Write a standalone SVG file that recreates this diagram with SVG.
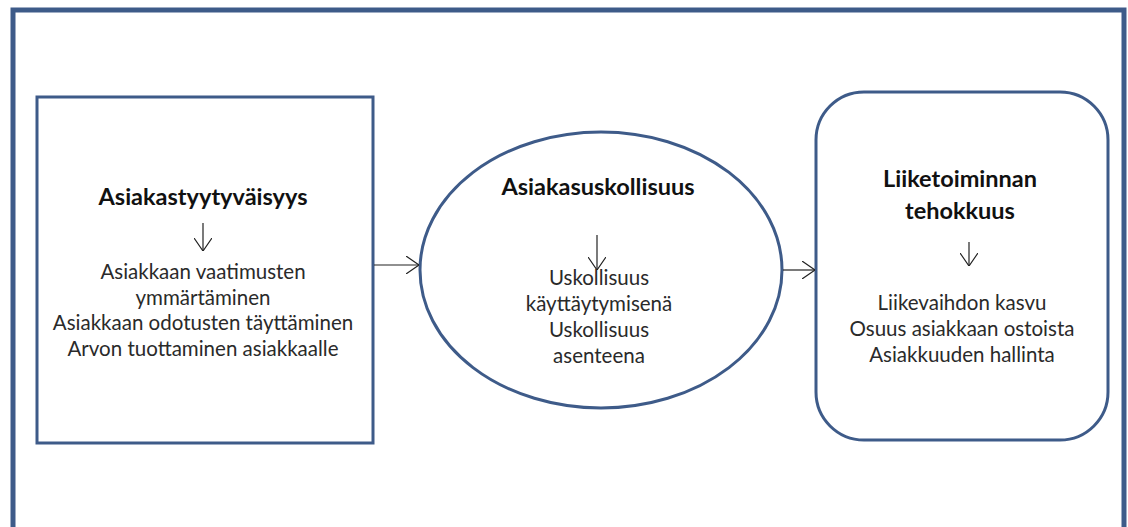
<svg xmlns="http://www.w3.org/2000/svg" width="1128" height="527" viewBox="0 0 1128 527">
<style>
.shape{fill:#ffffff;stroke:#3e5b89;stroke-width:3}
.title{font-family:Lato,"Liberation Sans",sans-serif;font-weight:bold;font-size:23.5px;fill:#111;text-anchor:middle}
.body{font-family:Lato,"Liberation Sans",sans-serif;font-size:20.5px;fill:#2a2a2a;text-anchor:middle}
.conn{stroke:#222;stroke-width:1.2;fill:none}
</style>
<defs>
<marker id="open" viewBox="0 0 13 18" refX="13" refY="9" markerWidth="13" markerHeight="18" markerUnits="userSpaceOnUse" orient="auto">
<path d="M0,0 L13,9 L0,18" fill="none" stroke="#222" stroke-width="1.2"/>
</marker>
</defs>
<rect width="1128" height="527" fill="#ffffff"/>
<path d="M13,540 V10 H1124 V540" fill="#ffffff" stroke="#3e5b89" stroke-width="5"/>
<g id="satisfaction">
<rect class="shape" x="37" y="97" width="336" height="346"/>
<text class="title" x="203" y="205">Asiakastyytyväisyys</text>
<line class="conn" x1="203" y1="223" x2="203" y2="251" marker-end="url(#open)"/>
<text class="body" x="203" y="279">Asiakkaan vaatimusten</text>
<text class="body" x="203" y="305">ymmärtäminen</text>
<text class="body" x="203" y="330">Asiakkaan odotusten täyttäminen</text>
<text class="body" x="203" y="356">Arvon tuottaminen asiakkaalle</text>
</g>
<g id="loyalty">
<ellipse class="shape" cx="601" cy="270" rx="181" ry="138"/>
<text class="title" x="598" y="195">Asiakasuskollisuus</text>
<line class="conn" x1="597" y1="235" x2="597" y2="270" marker-end="url(#open)"/>
<text class="body" x="599" y="285">Uskollisuus</text>
<text class="body" x="599" y="311">käyttäytymisenä</text>
<text class="body" x="599" y="337">Uskollisuus</text>
<text class="body" x="599" y="363">asenteena</text>
</g>
<g id="efficiency">
<rect class="shape" x="816" y="92" width="292" height="348" rx="48" ry="48"/>
<text class="title" x="960" y="187">Liiketoiminnan</text>
<text class="title" x="960" y="219">tehokkuus</text>
<line class="conn" x1="969" y1="242" x2="969" y2="266" marker-end="url(#open)"/>
<text class="body" x="962" y="310">Liikevaihdon kasvu</text>
<text class="body" x="962" y="336">Osuus asiakkaan ostoista</text>
<text class="body" x="962" y="362">Asiakkuuden hallinta</text>
</g>
<g id="connectors">
<line class="conn" x1="374" y1="265" x2="419" y2="265" marker-end="url(#open)"/>
<line class="conn" x1="783" y1="270" x2="815" y2="270" marker-end="url(#open)"/>
</g>
</svg>
